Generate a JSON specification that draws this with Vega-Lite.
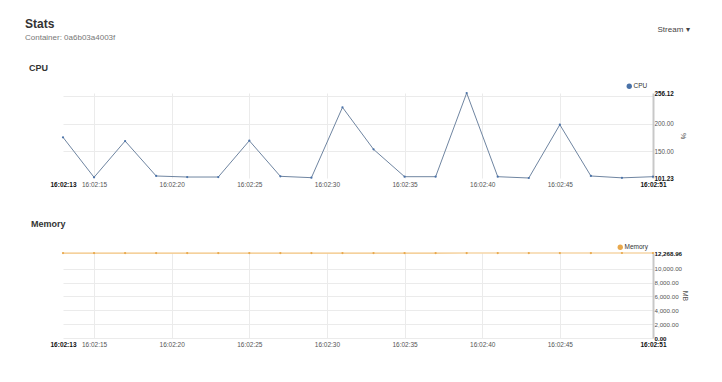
{
  "$schema": "https://vega.github.io/schema/vega-lite/v6.json",
  "background": "white",
  "padding": {"left": 24, "top": 18, "right": 10, "bottom": 5},
  "config": {
    "font": "Liberation Sans",
    "view": {"stroke": null},
    "axis": {"labelFont": "Liberation Sans", "titleFont": "Liberation Sans"}
  },
  "datasets": {
    "stats": [
      {"time": "2024-01-01T16:02:13", "cpu": 175.4, "memory": 12255.1},
      {"time": "2024-01-01T16:02:15", "cpu": 102.5, "memory": 12256.4},
      {"time": "2024-01-01T16:02:17", "cpu": 168.6, "memory": 12258.2},
      {"time": "2024-01-01T16:02:19", "cpu": 104.9, "memory": 12259.0},
      {"time": "2024-01-01T16:02:21", "cpu": 103.0, "memory": 12259.7},
      {"time": "2024-01-01T16:02:23", "cpu": 103.0, "memory": 12260.3},
      {"time": "2024-01-01T16:02:25", "cpu": 169.2, "memory": 12261.2},
      {"time": "2024-01-01T16:02:27", "cpu": 104.3, "memory": 12261.8},
      {"time": "2024-01-01T16:02:29", "cpu": 101.8, "memory": 12262.5},
      {"time": "2024-01-01T16:02:31", "cpu": 230.0, "memory": 12263.1},
      {"time": "2024-01-01T16:02:33", "cpu": 153.5, "memory": 12263.9},
      {"time": "2024-01-01T16:02:35", "cpu": 103.6, "memory": 12264.4},
      {"time": "2024-01-01T16:02:37", "cpu": 103.6, "memory": 12265.0},
      {"time": "2024-01-01T16:02:39", "cpu": 256.12, "memory": 12265.6},
      {"time": "2024-01-01T16:02:41", "cpu": 103.6, "memory": 12266.2},
      {"time": "2024-01-01T16:02:43", "cpu": 101.23, "memory": 12266.8},
      {"time": "2024-01-01T16:02:45", "cpu": 198.3, "memory": 12267.3},
      {"time": "2024-01-01T16:02:47", "cpu": 104.9, "memory": 12267.9},
      {"time": "2024-01-01T16:02:49", "cpu": 101.5, "memory": 12268.4},
      {"time": "2024-01-01T16:02:51", "cpu": 103.6, "memory": 12268.96}
    ]
  },
  "title": {
    "text": "Stats",
    "subtitle": "Container: 0a6b03a4003f",
    "anchor": "start",
    "fontSize": 12,
    "fontWeight": "bold",
    "color": "#333333",
    "subtitleFontSize": 8,
    "subtitleColor": "#777777",
    "subtitlePadding": 3,
    "dx": -4,
    "offset": -17
  },
  "vconcat": [
    {
      "title": {
        "text": "Stream      ▾",
        "anchor": "end",
        "fontSize": 8,
        "fontWeight": "normal",
        "color": "#444444",
        "dx": 1,
        "dy": -30,
        "offset": 0
      },
      "spacing": 32,
      "resolve": {"scale": {"color": "independent", "x": "independent", "y": "independent"}, "legend": {"color": "independent"}},
      "vconcat": [
        {
          "title": {"text": "CPU", "anchor": "start", "fontSize": 9, "fontWeight": "bold", "color": "#333333", "dx": -21, "offset": 10},
          "width": 590,
          "height": 85,
          "data": {"name": "stats"},
          "encoding": {
            "x": {
              "field": "time",
              "type": "temporal",
              "scale": {"domain": [
                {"year": 2024, "month": 1, "date": 1, "hours": 16, "minutes": 2, "seconds": 13},
                {"year": 2024, "month": 1, "date": 1, "hours": 16, "minutes": 2, "seconds": 51}
              ]},
              "axis": {
                "values": [
                  {"year": 2024, "month": 1, "date": 1, "hours": 16, "minutes": 2, "seconds": 13},
                  {"year": 2024, "month": 1, "date": 1, "hours": 16, "minutes": 2, "seconds": 15},
                  {"year": 2024, "month": 1, "date": 1, "hours": 16, "minutes": 2, "seconds": 20},
                  {"year": 2024, "month": 1, "date": 1, "hours": 16, "minutes": 2, "seconds": 25},
                  {"year": 2024, "month": 1, "date": 1, "hours": 16, "minutes": 2, "seconds": 30},
                  {"year": 2024, "month": 1, "date": 1, "hours": 16, "minutes": 2, "seconds": 35},
                  {"year": 2024, "month": 1, "date": 1, "hours": 16, "minutes": 2, "seconds": 40},
                  {"year": 2024, "month": 1, "date": 1, "hours": 16, "minutes": 2, "seconds": 45},
                  {"year": 2024, "month": 1, "date": 1, "hours": 16, "minutes": 2, "seconds": 51}
                ],
                "format": "%H:%M:%S",
                "title": null,
                "domain": false,
                "ticks": false,
                "labelFontSize": 6.5,
                "labelPadding": 3,
                "labelOverlap": false,
                "labelFlush": false,
                "labelBound": false,
                "labelColor": {"condition": {"test": "seconds(datum.value) == 13 || seconds(datum.value) == 51", "value": "#111111"}, "value": "#555555"},
                "labelFontWeight": {"condition": {"test": "seconds(datum.value) == 13 || seconds(datum.value) == 51", "value": "bold"}, "value": "normal"},
                "gridColor": "#ebebeb",
                "gridOpacity": {"condition": {"test": "seconds(datum.value) == 13 || seconds(datum.value) == 51", "value": 0}, "value": 1}
              }
            },
            "y": {
              "field": "cpu",
              "type": "quantitative",
              "scale": {"domain": [101.23, 256.12], "nice": false, "zero": false},
              "axis": {
                "orient": "right",
                "values": [101.23, 150, 200, 250, 256.12],
                "labelExpr": "datum.value == 250 ? '' : format(datum.value, '.2f')",
                "title": "%",
                "titleFontSize": 7,
                "titleFontWeight": "normal",
                "titleColor": "#555555",
                "titlePadding": 6,
                "domainColor": "#c8c8c8",
                "domainWidth": 2,
                "ticks": false,
                "labelPadding": 1,
                "labelFontSize": 6.3,
                "labelOverlap": false,
                "labelFlush": false,
                "labelBound": false,
                "labelColor": {"condition": {"test": "datum.value == 101.23 || datum.value == 256.12", "value": "#111111"}, "value": "#555555"},
                "labelFontWeight": {"condition": {"test": "datum.value == 101.23 || datum.value == 256.12", "value": "bold"}, "value": "normal"},
                "gridColor": "#ebebeb",
                "gridOpacity": {"condition": {"test": "datum.value == 101.23 || datum.value == 256.12", "value": 0}, "value": 1}
              }
            }
          },
          "layer": [
            {"mark": {"type": "line", "color": "#6f85a1", "strokeWidth": 1}},
            {
              "mark": {"type": "point", "filled": true, "size": 5, "opacity": 1},
              "encoding": {
                "color": {
                  "datum": "CPU",
                  "scale": {"domain": ["CPU"], "range": ["#4a72a8"]},
                  "legend": {"orient": "none", "legendX": 563, "legendY": -10, "title": null, "labelFontSize": 6.5, "labelColor": "#333333", "symbolSize": 28, "symbolType": "circle", "symbolStrokeWidth": 0, "symbolOpacity": 1, "padding": 0, "labelOffset": 1}
                }
              }
            }
          ]
        },
        {
          "title": {"text": "Memory", "anchor": "start", "fontSize": 9, "fontWeight": "bold", "color": "#333333", "dx": -19, "offset": 15},
          "width": 590,
          "height": 85,
          "data": {"name": "stats"},
          "encoding": {
            "x": {
              "field": "time",
              "type": "temporal",
              "scale": {"domain": [
                {"year": 2024, "month": 1, "date": 1, "hours": 16, "minutes": 2, "seconds": 13},
                {"year": 2024, "month": 1, "date": 1, "hours": 16, "minutes": 2, "seconds": 51}
              ]},
              "axis": {
                "values": [
                  {"year": 2024, "month": 1, "date": 1, "hours": 16, "minutes": 2, "seconds": 13},
                  {"year": 2024, "month": 1, "date": 1, "hours": 16, "minutes": 2, "seconds": 15},
                  {"year": 2024, "month": 1, "date": 1, "hours": 16, "minutes": 2, "seconds": 20},
                  {"year": 2024, "month": 1, "date": 1, "hours": 16, "minutes": 2, "seconds": 25},
                  {"year": 2024, "month": 1, "date": 1, "hours": 16, "minutes": 2, "seconds": 30},
                  {"year": 2024, "month": 1, "date": 1, "hours": 16, "minutes": 2, "seconds": 35},
                  {"year": 2024, "month": 1, "date": 1, "hours": 16, "minutes": 2, "seconds": 40},
                  {"year": 2024, "month": 1, "date": 1, "hours": 16, "minutes": 2, "seconds": 45},
                  {"year": 2024, "month": 1, "date": 1, "hours": 16, "minutes": 2, "seconds": 51}
                ],
                "format": "%H:%M:%S",
                "title": null,
                "domain": false,
                "ticks": false,
                "labelFontSize": 6.5,
                "labelPadding": 3,
                "labelOverlap": false,
                "labelFlush": false,
                "labelBound": false,
                "labelColor": {"condition": {"test": "seconds(datum.value) == 13 || seconds(datum.value) == 51", "value": "#111111"}, "value": "#555555"},
                "labelFontWeight": {"condition": {"test": "seconds(datum.value) == 13 || seconds(datum.value) == 51", "value": "bold"}, "value": "normal"},
                "gridColor": "#ebebeb",
                "gridOpacity": {"condition": {"test": "seconds(datum.value) == 13 || seconds(datum.value) == 51", "value": 0}, "value": 1}
              }
            },
            "y": {
              "field": "memory",
              "type": "quantitative",
              "scale": {"domain": [0, 12268.96], "nice": false, "zero": true},
              "axis": {
                "orient": "right",
                "values": [0, 2000, 4000, 6000, 8000, 10000, 12268.96],
                "format": ",.2f",
                "title": "MB",
                "titleFontSize": 7,
                "titleFontWeight": "normal",
                "titleColor": "#555555",
                "titlePadding": 0,
                "domainColor": "#c8c8c8",
                "domainWidth": 2,
                "ticks": false,
                "labelPadding": 1,
                "labelFontSize": 6.2,
                "labelOverlap": false,
                "labelFlush": false,
                "labelBound": false,
                "labelColor": {"condition": {"test": "datum.value == 0 || datum.value == 12268.96", "value": "#111111"}, "value": "#555555"},
                "labelFontWeight": {"condition": {"test": "datum.value == 0 || datum.value == 12268.96", "value": "bold"}, "value": "normal"},
                "gridColor": "#ebebeb",
                "gridOpacity": {"condition": {"test": "datum.value == 12268.96", "value": 0}, "value": 1}
              }
            }
          },
          "layer": [
            {"mark": {"type": "line", "color": "#f2c27c", "strokeWidth": 1.2}},
            {
              "mark": {"type": "point", "filled": true, "size": 5, "opacity": 1},
              "encoding": {
                "color": {
                  "datum": "Memory",
                  "scale": {"domain": ["Memory"], "range": ["#e8a84c"]},
                  "legend": {"orient": "none", "legendX": 554, "legendY": -9, "title": null, "labelFontSize": 6.5, "labelColor": "#333333", "symbolSize": 28, "symbolType": "circle", "symbolStrokeWidth": 0, "symbolOpacity": 1, "padding": 0, "labelOffset": 1}
                }
              }
            }
          ]
        }
      ]
    }
  ]
}
